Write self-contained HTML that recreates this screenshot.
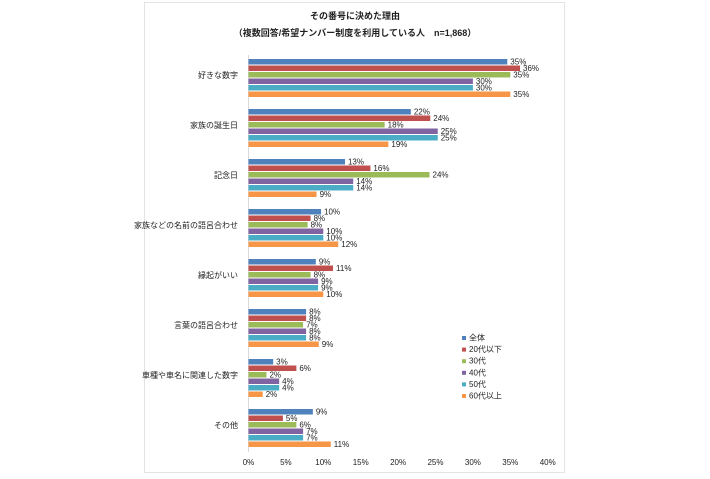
<!DOCTYPE html>
<html><head><meta charset="utf-8"><style>
body{margin:0;background:#fff;width:710px;height:474px;overflow:hidden}
text{font-family:"Liberation Sans","Noto Sans CJK JP",sans-serif;fill:#222}
</style></head><body>
<svg width="710" height="474" xmlns="http://www.w3.org/2000/svg">
<rect x="144.5" y="2.5" width="420" height="470" fill="#fff" stroke="#e4e4e4"/>
<text x="355" y="19" font-size="9" font-weight="bold" text-anchor="middle">その番号に決めた理由</text>
<text x="355" y="36" font-size="9" font-weight="bold" text-anchor="middle">（複数回答/希望ナンバー制度を利用している人　n=1,868）</text>
<line x1="248.5" y1="55" x2="248.5" y2="452" stroke="#d9d9d9"/>
<g id="bars"></g>
<g font-size="8" text-anchor="middle" id="ax"></g>
<g font-size="8" id="lg"></g>
</svg>
<script>
var cats=["好きな数字","家族の誕生日","記念日","家族などの名前の語呂合わせ","縁起がいい","言葉の語呂合わせ","車種や車名に関連した数字","その他"];
var vals=[[35,36,35,30,30,35],[22,24,18,25,25,19],[13,16,24,14,14,9],[10,8,8,10,10,12],[9,11,8,9,9,10],[8,8,7,8,8,9],[3,6,2,4,4,2],[9,5,6,7,7,11]];
var w=[[34.6,36.3,35.0,30.0,30.0,35.0],[21.7,24.3,18.2,25.3,25.3,18.7],[12.9,16.3,24.2,14.0,14.0,9.1],[9.7,8.3,7.9,10.0,10.0,12.0],[9.0,11.3,8.3,9.3,9.3,10.0],[7.7,7.7,7.3,7.7,7.7,9.4],[3.3,6.4,2.4,4.1,4.1,1.9],[8.6,4.6,6.4,7.3,7.3,11.0]];
var col=["#4f81bd","#c0504d","#9bbb59","#8064a2","#4bacc6","#f79646"];
var s="";var S=7.48,X=248.5;
for(var g=0;g<8;g++){var y0=59+g*50;
s+='<text x="238" y="'+(y0+19)+'" font-size="8" text-anchor="end">'+cats[g]+'</text>';
for(var i=0;i<6;i++){var y=y0+i*6.5,L=w[g][i]*S;
s+='<rect x="'+X+'" y="'+y+'" width="'+L+'" height="5.5" fill="'+col[i]+'"/>';
s+='<text x="'+(X+L+3)+'" y="'+(y+5.5)+'" font-size="8">'+vals[g][i]+'%</text>';}}
document.getElementById("bars").innerHTML=s;
s="";for(var k=0;k<=8;k++)s+='<text x="'+(X+k*5*S)+'" y="465">'+(k*5)+'%</text>';
document.getElementById("ax").innerHTML=s;
var ln=["全体","20代以下","30代","40代","50代","60代以上"];s="";
for(var i=0;i<6;i++){var y=336+i*11.6;s+='<rect x="462" y="'+y+'" width="4" height="4" fill="'+col[i]+'"/><text x="469" y="'+(y+4.5)+'">'+ln[i]+'</text>';}
document.getElementById("lg").innerHTML=s;
</script>
</body></html>
